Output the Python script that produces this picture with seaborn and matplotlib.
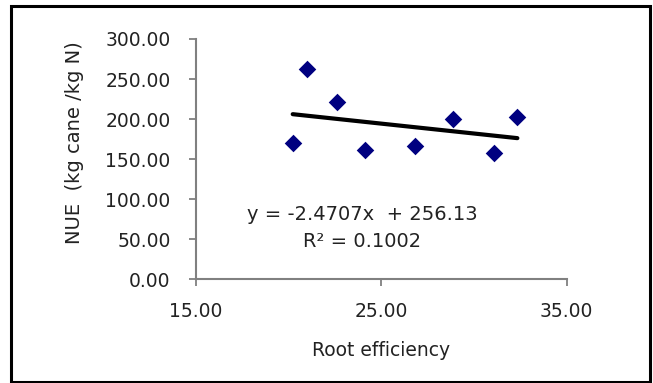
import matplotlib
matplotlib.use("Agg")
import matplotlib.pyplot as plt
import seaborn as sns
import pandas as pd
import numpy as np
from matplotlib.patches import Rectangle

# Data
root_efficiency = [20.23, 20.98, 22.60, 24.14, 26.81, 28.85, 31.08, 32.34]
nue_values = [169.8, 262.2, 221.3, 161.6, 166.4, 200.1, 157.3, 202.2]
trend_slope = -2.4707
trend_intercept = 256.13
equation_text = "y = -2.4707x  + 256.13"
r2_text = "R² = 0.1002"
x_ticks = [15, 25, 35]
y_ticks = [0, 50, 100, 150, 200, 250, 300]

df = pd.DataFrame({"x": root_efficiency, "y": nue_values})
x_line = np.array([min(root_efficiency), max(root_efficiency)])
line_df = pd.DataFrame({"x": x_line, "y": trend_slope * x_line + trend_intercept})

sns.set_style("white")
plt.rcParams['font.family'] = ['DejaVu Sans']

W, H = 653, 383
fig = plt.figure(figsize=(W / 100, H / 100), dpi=100)
ax = fig.add_axes([195.7 / W, 1 - 279.3 / H, (566.7 - 195.7) / W, (279.3 - 39) / H])

sns.lineplot(data=line_df, x="x", y="y", ax=ax, color="black", linewidth=3.0, zorder=2)
sns.scatterplot(data=df, x="x", y="y", ax=ax, marker="D", s=80, color="#000080",
                edgecolor="#000080", linewidth=0, zorder=3)

fs = 13.5
ax.set_xlim(15, 35)
ax.set_ylim(0, 300)
ax.set_xticks(x_ticks)
ax.set_yticks(y_ticks)
ax.set_xticklabels([f"{v:.2f}" for v in x_ticks], fontsize=fs, color="#222222")
ax.set_yticklabels([f"{v:.2f}" for v in y_ticks], fontsize=fs, color="#222222")
ax.tick_params(axis="x", direction="out", length=5, width=1.3, color="#808080",
               bottom=True, pad=11)
ax.tick_params(axis="y", direction="out", length=5, width=1.3, color="#808080",
               left=True, pad=13)

for side in ["top", "right"]:
    ax.spines[side].set_visible(False)
for side in ["left", "bottom"]:
    ax.spines[side].set_color("#808080")
    ax.spines[side].set_linewidth(1.5)

ax.set_xlabel("Root efficiency", fontsize=fs, color="#222222", labelpad=15)
ax.set_ylabel("NUE  (kg cane /kg N)", fontsize=14, color="#222222")
ax.yaxis.set_label_coords((84 - 195.7) / (566.7 - 195.7), 0.567)

ax.text(23.97, 80.3, equation_text, ha="center", va="center", fontsize=14, color="#222222")
ax.text(23.97, 46.6, r2_text, ha="center", va="center", fontsize=14, color="#222222")

# Outer frame
fig.patches.append(Rectangle((10.5 / W, 1 - 381.5 / H), (649.5 - 10.5) / W, (381.5 - 5.5) / H,
                             transform=fig.transFigure, fill=False, edgecolor="black",
                             linewidth=2.2, zorder=10))

fig.savefig("out.png", dpi=100)
